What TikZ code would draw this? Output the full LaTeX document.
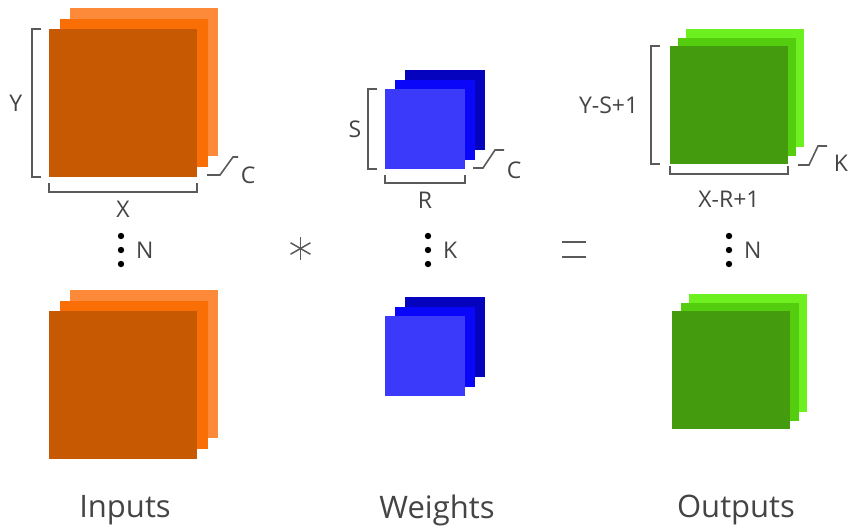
\documentclass[tikz,border=0pt]{standalone}
\usepackage{fontspec}
\setmainfont{Open Sans}
\usetikzlibrary{positioning}

\definecolor{inFront}{RGB}{200,89,3}
\definecolor{inMid}{RGB}{250,110,6}
\definecolor{inBack}{RGB}{252,138,56}
\definecolor{wFront}{RGB}{60,58,250}
\definecolor{wMid}{RGB}{10,6,250}
\definecolor{wBack}{RGB}{5,3,190}
\definecolor{outFront}{RGB}{68,155,14}
\definecolor{outMid}{RGB}{85,205,15}
\definecolor{outBack}{RGB}{109,240,32}
\definecolor{dimgray}{RGB}{90,90,90}
\definecolor{txtgray}{RGB}{68,68,68}

\begin{document}
\begin{tikzpicture}[x=1pt,y=-1pt]
    \tikzset{
      sheet/.style={
        rectangle,
        inner sep=0pt,
        outer sep=0pt,
        anchor=north west,
        minimum size=#1
      },
      bracket/.style={
        draw=dimgray,
        line width=1.6pt
      },
      opline/.style={
        draw=dimgray,
        line width=1.5pt
      },
      dimlabel/.style={
        inner sep=0pt,
        text=txtgray,
        font=\fontsize{23}{23}\selectfont
      },
      title/.style={
        text=txtgray,
        font=\fontsize{31}{31}\selectfont
      }
    }
    \useasboundingbox (0,0) rectangle (848,531);

    % Inputs
    \node [sheet=148pt, fill=inBack]  (inTopC) at (70,8)        {};
    \node [sheet=148pt, fill=inMid]   (inTopB) at (59.5,18.5)   {};
    \node [sheet=148pt, fill=inFront] (inTop)  at (49,29)       {};
    \node [sheet=148pt, fill=inBack]  (inBotC) at (70,290)      {};
    \node [sheet=148pt, fill=inMid]   (inBotB) at (59.5,300.5)  {};
    \node [sheet=148pt, fill=inFront] (inBot)  at (49,311)      {};

    % Weights
    \node [sheet=80pt, fill=wBack]  (wTopC) at (405,70)    {};
    \node [sheet=80pt, fill=wMid]   (wTopB) at (395,79.5)  {};
    \node [sheet=80pt, fill=wFront] (wTop)  at (385,89)    {};
    \node [sheet=80pt, fill=wBack]  (wBotC) at (405,297)   {};
    \node [sheet=80pt, fill=wMid]   (wBotB) at (395,306.5) {};
    \node [sheet=80pt, fill=wFront] (wBot)  at (385,316)   {};

    % Outputs
    \node [sheet=118pt, fill=outBack]  (outTopC) at (686,29)    {};
    \node [sheet=118pt, fill=outMid]   (outTopB) at (678,37.5)  {};
    \node [sheet=118pt, fill=outFront] (outTop)  at (670,46)    {};
    \node [sheet=118pt, fill=outBack]  (outBotC) at (689,294)   {};
    \node [sheet=118pt, fill=outMid]   (outBotB) at (680.5,302.5) {};
    \node [sheet=118pt, fill=outFront] (outBot)  at (672,311)   {};

    % Dimensions
    \draw [bracket] ([xshift=-8pt]inTop.north west) -- ++(-9,0)
        -- node [dimlabel, left=9pt] {Y} ([xshift=-17pt]inTop.south west) -- ++(9,0);
    \draw [bracket] ([yshift=-6pt]inTop.south west) -- ++(0,9)
        -- node [dimlabel, below=8pt] {X} ([yshift=-15pt]inTop.south east) -- ++(0,-9);
    \draw [bracket] ([shift={(10pt,2pt)}]inTop.south east) -- ++(13,0) -- ++(13,-18) -- ++(5,0)
        node [dimlabel, below right=9pt and 2pt] {C};

    \draw [bracket] ([xshift=-8pt]wTop.north west) -- ++(-9,0)
        -- node [dimlabel, left=6pt] {S} ([xshift=-17pt]wTop.south west) -- ++(9,0);
    \draw [bracket] ([yshift=-6pt]wTop.south west) -- ++(0,8)
        -- node [dimlabel, below=8pt] {R} ([yshift=-14pt]wTop.south east) -- ++(0,-8);
    \draw [bracket] ([shift={(8pt,1pt)}]wTop.south east) -- ++(10,0) -- ++(12,-18) -- ++(9,0)
        node [dimlabel, below right=11pt and 2pt] {C};

    \draw [bracket] ([xshift=-10pt]outTop.north west) -- ++(-9,0)
        -- node [dimlabel, left=12pt] {Y-S+1} ([xshift=-19pt]outTop.south west) -- ++(9,0);
    \draw [bracket] ([yshift=-2pt]outTop.south west) -- ++(0,8)
        -- node [dimlabel, below=16pt] {X-R+1} ([yshift=-10pt]outTop.south east) -- ++(0,-8);
    \draw [bracket] ([shift={(10pt,-1pt)}]outTop.south east) -- ++(11,0) -- ++(9,-19) -- ++(9,0)
        node [dimlabel, below right=8pt and 6pt] {K};

    % Batch / filter counts
    \foreach \x/\lab/\nm in {121/N/nIn, 428/K/nW, 729/N/nOut} {
        \foreach \y in {236,250,264}
            \fill (\x,\y) circle (3.2pt);
        \node [dimlabel, right=15pt] (\nm) at (\x,250) {\lab};
    }

    % Operators
    \coordinate (conv) at (300.5,248.5);
    \foreach \a in {90,30,150}
        \draw [opline] (conv) ++(\a:11.5) -- ++(\a+180:23);
    \draw [opline] (562,242) -- (586,242)
                   (562,257) -- (586,257);

    % Titles
    \node [title] (inTitle)  at (125,510) {Inputs};
    \node [title] (wTitle)   at (437,510) {Weights};
    \node [title] (outTitle) at (736,510) {Outputs};
\end{tikzpicture}
\end{document}
